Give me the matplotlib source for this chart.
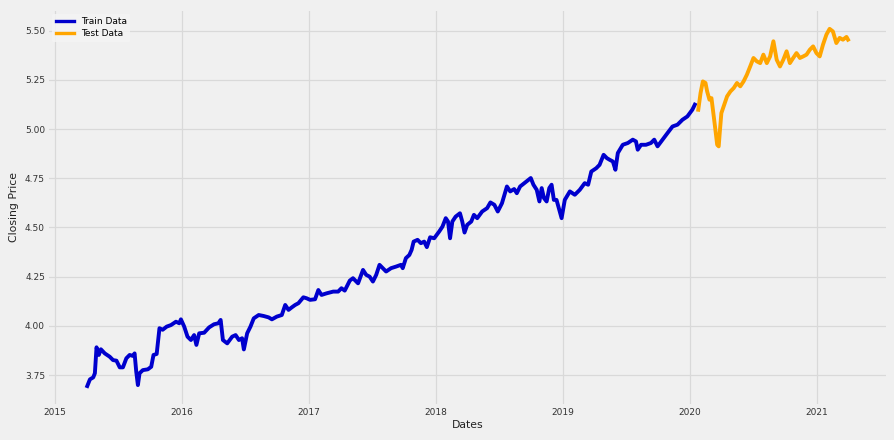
import numpy as np
import pandas as pd
import matplotlib
matplotlib.use("Agg")
import matplotlib.pyplot as plt
import matplotlib.dates as mdates

# dates as decimal years, closing price (log scale values as shown)
train_years = [
    2015.253, 2015.274, 2015.300, 2015.313, 2015.326, 2015.344, 2015.360, 2015.391,
    2015.430, 2015.456, 2015.483, 2015.509, 2015.534, 2015.561, 2015.587, 2015.613,
    2015.626, 2015.639, 2015.652, 2015.665, 2015.691, 2015.730, 2015.757, 2015.775,
    2015.800, 2015.822, 2015.847, 2015.879, 2015.913, 2015.952, 2015.978, 2015.991,
    2016.017, 2016.043, 2016.070, 2016.095, 2016.113, 2016.135, 2016.174, 2016.213,
    2016.252, 2016.286, 2016.304, 2016.322, 2016.356, 2016.395, 2016.422, 2016.448,
    2016.473, 2016.487, 2016.513, 2016.539, 2016.565, 2016.604, 2016.643, 2016.682,
    2016.708, 2016.747, 2016.786, 2016.813, 2016.839, 2016.865, 2016.891, 2016.917,
    2016.956, 2016.982, 2017.009, 2017.048, 2017.074, 2017.099, 2017.138, 2017.191,
    2017.230, 2017.256, 2017.282, 2017.322, 2017.347, 2017.387, 2017.426, 2017.451,
    2017.478, 2017.504, 2017.530, 2017.556, 2017.582, 2017.608, 2017.647, 2017.686,
    2017.725, 2017.739, 2017.764, 2017.791, 2017.809, 2017.825, 2017.856, 2017.882,
    2017.908, 2017.929, 2017.955, 2017.987, 2018.026, 2018.052, 2018.078, 2018.096,
    2018.112, 2018.130, 2018.156, 2018.190, 2018.208, 2018.226, 2018.247, 2018.279,
    2018.300, 2018.326, 2018.365, 2018.404, 2018.430, 2018.461, 2018.488, 2018.521,
    2018.560, 2018.586, 2018.617, 2018.638, 2018.664, 2018.691, 2018.722, 2018.748,
    2018.769, 2018.795, 2018.816, 2018.834, 2018.852, 2018.873, 2018.894, 2018.912,
    2018.930, 2018.951, 2018.973, 2018.991, 2019.016, 2019.056, 2019.095, 2019.134,
    2019.173, 2019.200, 2019.225, 2019.264, 2019.290, 2019.322, 2019.348, 2019.369,
    2019.395, 2019.415, 2019.434, 2019.473, 2019.513, 2019.552, 2019.577, 2019.591,
    2019.617, 2019.656, 2019.695, 2019.721, 2019.747, 2019.786, 2019.826, 2019.865,
    2019.904, 2019.943, 2019.982, 2020.021, 2020.041,
]
train_close = [
    3.694, 3.728, 3.738, 3.759, 3.891, 3.852, 3.881, 3.860,
    3.843, 3.826, 3.823, 3.789, 3.789, 3.835, 3.852, 3.847,
    3.860, 3.767, 3.699, 3.759, 3.775, 3.779, 3.792, 3.852,
    3.857, 3.988, 3.980, 3.996, 4.004, 4.021, 4.013, 4.033,
    3.996, 3.945, 3.928, 3.953, 3.903, 3.962, 3.965, 3.992,
    4.008, 4.013, 4.030, 3.928, 3.911, 3.945, 3.953, 3.928,
    3.937, 3.880, 3.962, 3.996, 4.038, 4.055, 4.050, 4.043,
    4.033, 4.047, 4.055, 4.106, 4.081, 4.094, 4.106, 4.115,
    4.145, 4.140, 4.132, 4.135, 4.182, 4.157, 4.165, 4.174,
    4.174, 4.191, 4.179, 4.230, 4.242, 4.216, 4.284, 4.259,
    4.250, 4.225, 4.259, 4.310, 4.293, 4.276, 4.293, 4.301,
    4.310, 4.293, 4.344, 4.360, 4.386, 4.428, 4.437, 4.420,
    4.428, 4.400, 4.450, 4.445, 4.479, 4.504, 4.547, 4.530,
    4.445, 4.530, 4.555, 4.572, 4.530, 4.474, 4.513, 4.530,
    4.564, 4.547, 4.581, 4.598, 4.627, 4.615, 4.581, 4.623,
    4.708, 4.683, 4.695, 4.674, 4.708, 4.722, 4.738, 4.751,
    4.717, 4.691, 4.632, 4.700, 4.649, 4.632, 4.700, 4.717,
    4.640, 4.640, 4.589, 4.547, 4.640, 4.683, 4.666, 4.691,
    4.725, 4.717, 4.784, 4.801, 4.818, 4.869, 4.852, 4.844,
    4.835, 4.793, 4.878, 4.920, 4.929, 4.946, 4.937, 4.895,
    4.920, 4.920, 4.929, 4.946, 4.912, 4.946, 4.980, 5.013,
    5.022, 5.047, 5.064, 5.098, 5.124,
]
test_years = [
    2020.068, 2020.086, 2020.104, 2020.125, 2020.138, 2020.156, 2020.172, 2020.190,
    2020.203, 2020.217, 2020.229, 2020.237, 2020.250, 2020.268, 2020.295, 2020.321,
    2020.347, 2020.373, 2020.399, 2020.425, 2020.451, 2020.477, 2020.503, 2020.529,
    2020.556, 2020.581, 2020.608, 2020.634, 2020.660, 2020.686, 2020.712, 2020.738,
    2020.764, 2020.790, 2020.816, 2020.842, 2020.869, 2020.895, 2020.921, 2020.947,
    2020.973, 2020.999, 2021.025, 2021.051, 2021.078, 2021.103, 2021.129, 2021.156,
    2021.182, 2021.208, 2021.236, 2021.248,
]
test_close = [
    5.098, 5.183, 5.242, 5.234, 5.191, 5.149, 5.157, 5.064,
    4.996, 4.920, 4.912, 4.980, 5.081, 5.115, 5.166, 5.191,
    5.208, 5.234, 5.217, 5.242, 5.276, 5.318, 5.361, 5.344,
    5.335, 5.378, 5.335, 5.369, 5.446, 5.352, 5.318, 5.352,
    5.395, 5.335, 5.361, 5.386, 5.361, 5.369, 5.378, 5.403,
    5.420, 5.386, 5.369, 5.429, 5.480, 5.509, 5.496, 5.437,
    5.463, 5.454, 5.468, 5.454,
]


def to_dates(years):
    yrs = np.array(years)
    return pd.Timestamp("2015-01-01") + pd.to_timedelta((yrs - 2015) * 365.25, unit="D")


bg = "#f0f0f0"
fig = plt.figure(figsize=(8.95, 4.4), dpi=100, facecolor=bg)
ax = fig.add_axes([0.055, 0.082, 0.935, 0.893], facecolor=bg)

ax.plot(to_dates(train_years), train_close, color="mediumblue", lw=2.8,
        solid_joinstyle="round", label="Train Data")
ax.plot(to_dates(test_years), test_close, color="orange", lw=2.8,
        solid_joinstyle="round", label="Test Data")

ax.xaxis.set_major_locator(mdates.YearLocator())
ax.xaxis.set_major_formatter(mdates.DateFormatter("%Y"))
ax.set_yticks([3.75, 4.00, 4.25, 4.50, 4.75, 5.00, 5.25, 5.50])
ax.yaxis.set_major_formatter(matplotlib.ticker.FormatStrFormatter("%.2f"))

ax.grid(True, color="#d9d9d9", lw=0.9)
ax.set_axisbelow(True)
for s in ax.spines.values():
    s.set_visible(False)
ax.tick_params(length=0, labelsize=6.5, colors="#333333", pad=3)
ax.set_xlabel("Dates", fontsize=7.8, color="#222222", labelpad=2)
ax.set_ylabel("Closing Price", fontsize=7.8, color="#222222", labelpad=4)

leg = ax.legend(loc="upper left", fontsize=6.5, frameon=True, borderaxespad=0.3,
                handlelength=2.0, labelspacing=0.3)
leg.get_frame().set_facecolor("#f5f5f5")
leg.get_frame().set_edgecolor("none")
for line in leg.get_lines():
    line.set_linewidth(2.4)

fig.savefig("out.png", dpi=100, facecolor=bg)
